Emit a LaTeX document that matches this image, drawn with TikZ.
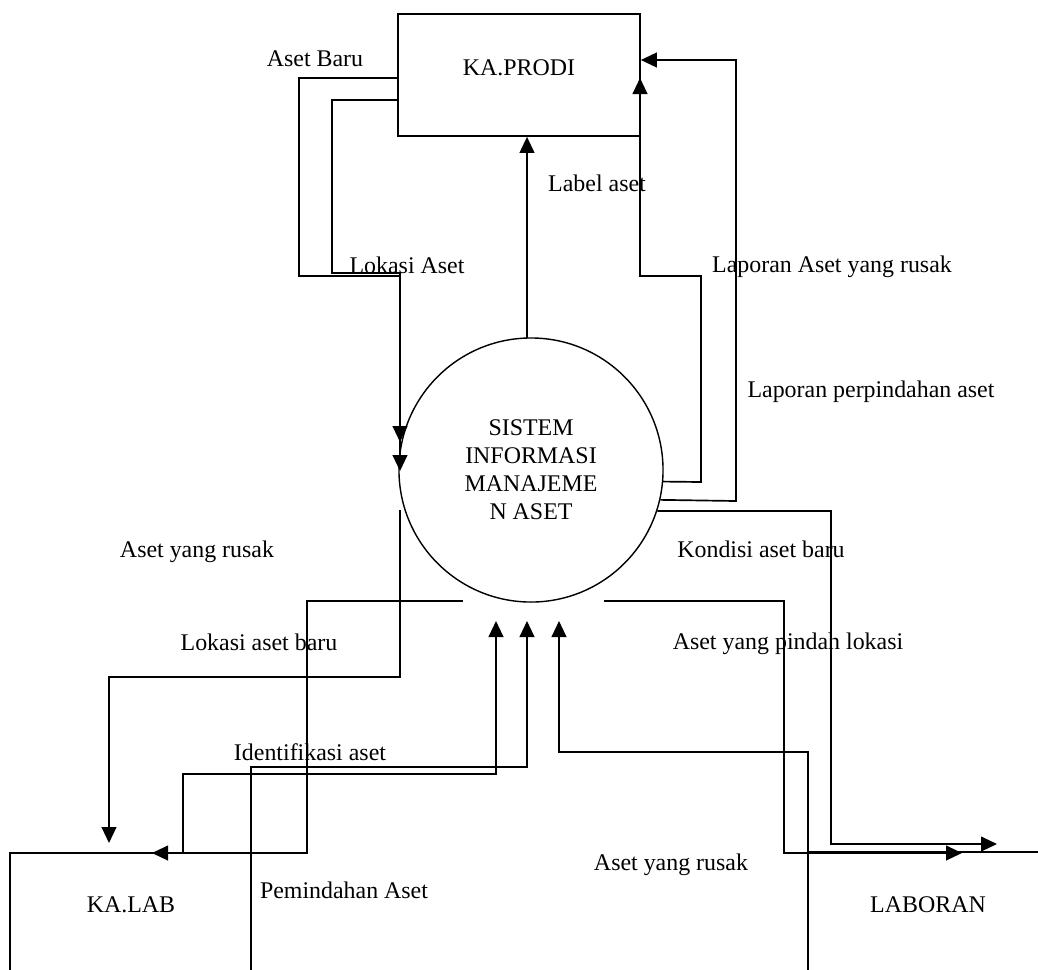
\documentclass[tikz,border=0pt]{standalone}
\usepackage{fontspec}
\setmainfont{Liberation Serif}
\usetikzlibrary{arrows.meta}
\begin{document}
\begin{tikzpicture}[x=0.025cm, y=-0.025cm, line width=1.2pt,
		flow/.style={-{Triangle[length=0.4cm,width=0.37cm]}},
		box/.style={draw, inner sep=0pt},
		txt/.style={font=\fontsize{17}{20}\selectfont, text height=11.25pt, text depth=0pt, inner sep=0pt}]
	\useasboundingbox (0,0) rectangle (1038,969);
	\clip (0,0) rectangle (1038,969);

	% Entities
	\node[box, minimum width=6.05cm, minimum height=3.05cm] (prodi) at (519,75) {};
	\node[box, minimum width=6.025cm, minimum height=6cm] (lab) at (130.5,973) {};
	\node[box, minimum width=7.5cm, minimum height=7.5cm] (laboran) at (958,1002) {};
	\node[txt] (prodiname) at (519,68) {KA.PRODI};
	\node[txt] (labname) at (131,905) {KA.LAB};
	\node[txt] (laboranname) at (928,905) {LABORAN};

	% Process
	\node[draw, circle, line width=1pt, minimum size=6.6cm, inner sep=0pt, align=center,
		font=\fontsize{17}{19.9}\selectfont] (sim) at (531,470) {SISTEM\\INFORMASI\\MANAJEME\\N ASET};

	% Free ends
	\coordinate (baru) at (prodi.west |- 0,78);
	\coordinate (lokasi) at (prodi.west |- 0,100);
	\coordinate (labelbase) at (527,338);
	\coordinate (rusakkiri) at (463,601);
	\coordinate (pindah) at (604,601);
	\coordinate (kelab) at (400,510);
	\coordinate (identif) at (183,853);
	\coordinate (pemind) at (251,914);
	\coordinate (rusakkanan) at (808,882);

	% KA.PRODI <-> sistem
	\draw[flow] (baru) -- (299,78) -- (299,276) -- (400,276) -- (400,442);
	\draw[flow] (lokasi) -- (332,100) -- (332,273) -- (400,273) -- (400,471);
	\draw[flow] (labelbase) -- (labelbase |- prodi.south);
	\draw[flow] (sim.-5) -- (701,482) -- (701,276) -- (640,276) -- (640,78);
	\draw[flow] (sim.-13.6) -- (736,501) -- (736,60) -- (prodi.east |- 0,60);

	% sistem <-> LABORAN
	\draw[flow] (sim.-18) -- (831,511) -- (831,844) -- (997,844);
	\draw[flow] (pindah) -- (784,601) -- (784,853) -- (962,853);
	\draw[flow] (rusakkanan) -- (808,752) -- (559,752) -- (559,621);

	% sistem <-> KA.LAB
	\draw[flow] (kelab) -- (400,677) -- (109,677) -- (109,843);
	\draw[flow] (rusakkiri) -- (307,601) -- (307,853) -- (152,853);
	\draw[flow] (identif) -- (183,774) -- (496,774) -- (496,621);
	\draw[flow] (pemind) -- (251,767) -- (527,767) -- (527,621);

	% Labels
	\node[txt] (tbaru) at (315,59) {Aset Baru};
	\node[txt] (tlokasi) at (407,266) {Lokasi Aset};
	\node[txt] (tlabel) at (597,184) {Label aset};
	\node[txt] (tlaprusak) at (832,265) {Laporan Aset yang rusak};
	\node[txt] (tlappindah) at (871,390) {Laporan perpindahan aset};
	\node[txt] (tkondisi) at (761,550) {Kondisi aset baru};
	\node[txt] (tpindah) at (788,642) {Aset yang pindah lokasi};
	\node[txt] (trusakkanan) at (671,863) {Aset yang rusak};
	\node[txt] (trusakkiri) at (197,550) {Aset yang rusak};
	\node[txt] (tkelab) at (259,643) {Lokasi aset baru};
	\node[txt] (tidentif) at (310,753) {Identifikasi aset};
	\node[txt] (tpemind) at (344,891) {Pemindahan Aset};
\end{tikzpicture}
\end{document}
